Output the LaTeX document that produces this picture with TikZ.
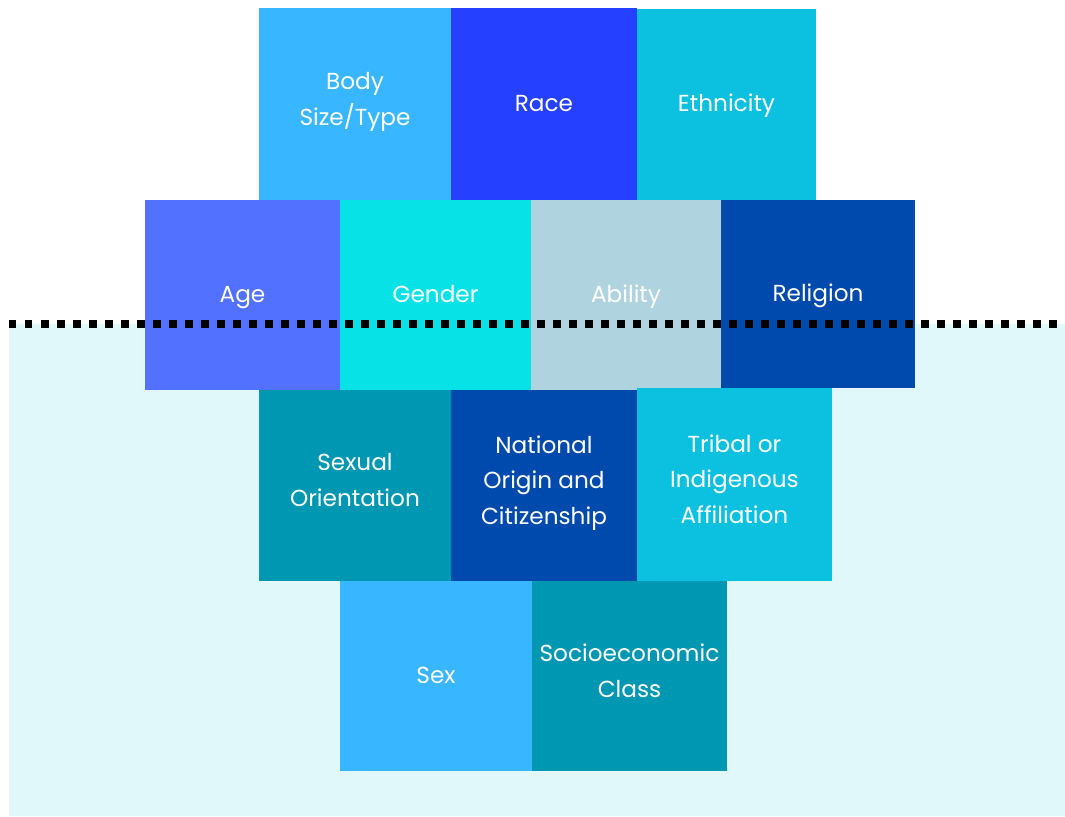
\documentclass[tikz,border=0pt]{standalone}
\usepackage{fontspec}
\setmainfont{Poppins}

\definecolor{skyblue}{HTML}{38B6FF}
\definecolor{royal}{HTML}{2540FF}
\definecolor{cyanmid}{HTML}{0CC0DF}
\definecolor{periwinkle}{HTML}{5271FF}
\definecolor{aqua}{HTML}{06E2E6}
\definecolor{powder}{HTML}{B0D4DF}
\definecolor{cobalt}{HTML}{004AAD}
\definecolor{teal}{HTML}{0097B2}
\definecolor{paleaqua}{HTML}{E0F8FA}

\tikzset{
    lbl/.style={text=white, align=center, font=\fontsize{6.6}{10.2}\selectfont,
        execute at begin node=\strut, execute at end node=\strut},
}

\begin{document}
\begin{tikzpicture}
        \useasboundingbox (0,0) rectangle (10.65,8.16);
        \fill[paleaqua] (0.09,0) rectangle (10.65,4.92);

        % top row
        \fill[skyblue] (2.59,6.16) rectangle (4.51,8.08) node (body) [pos=.5, lbl] {Body\\Size/Type};
        \fill[royal] (4.51,6.16) rectangle (6.37,8.08) node (race) [pos=.5, lbl] {Race};
        \fill[cyanmid] (6.37,6.16) rectangle (8.16,8.07) node (ethnicity) [pos=.5, lbl] {Ethnicity};

        % second row
        \fill[periwinkle] (1.45,4.26) rectangle (3.40,6.16) node (age) [pos=.5, lbl] {Age};
        \fill[aqua] (3.40,4.26) rectangle (5.31,6.16) node (gender) [pos=.5, lbl] {Gender};
        \fill[powder] (5.31,4.26) rectangle (7.21,6.16) node (ability) [pos=.5, lbl] {Ability};
        \fill[cobalt] (7.21,4.28) rectangle (9.15,6.16) node (religion) [pos=.5, lbl] {Religion};

        % third row
        \fill[teal] (2.59,2.35) rectangle (4.51,4.26) node (sexor) [pos=.5, lbl] {Sexual\\Orientation};
        \fill[cobalt] (4.51,2.35) rectangle (6.37,4.26) node (national) [pos=.5, lbl] {National\\Origin and\\Citizenship};
        \fill[cyanmid] (6.37,2.35) rectangle (8.32,4.28) node (tribal) [pos=.5, lbl] {Tribal or\\Indigenous\\Affiliation};

        % bottom row
        \fill[skyblue] (3.40,0.45) rectangle (5.32,2.35) node (sex) [pos=.5, lbl] {Sex};
        \fill[teal] (5.32,0.45) rectangle (7.27,2.35) node (socio) [pos=.5, lbl] {Socioeconomic\\Class};

        \draw[line width=0.075cm, dash pattern=on 0.075cm off 0.085cm] (0.09,4.92) -- (10.58,4.92);
    \end{tikzpicture}
\end{document}
